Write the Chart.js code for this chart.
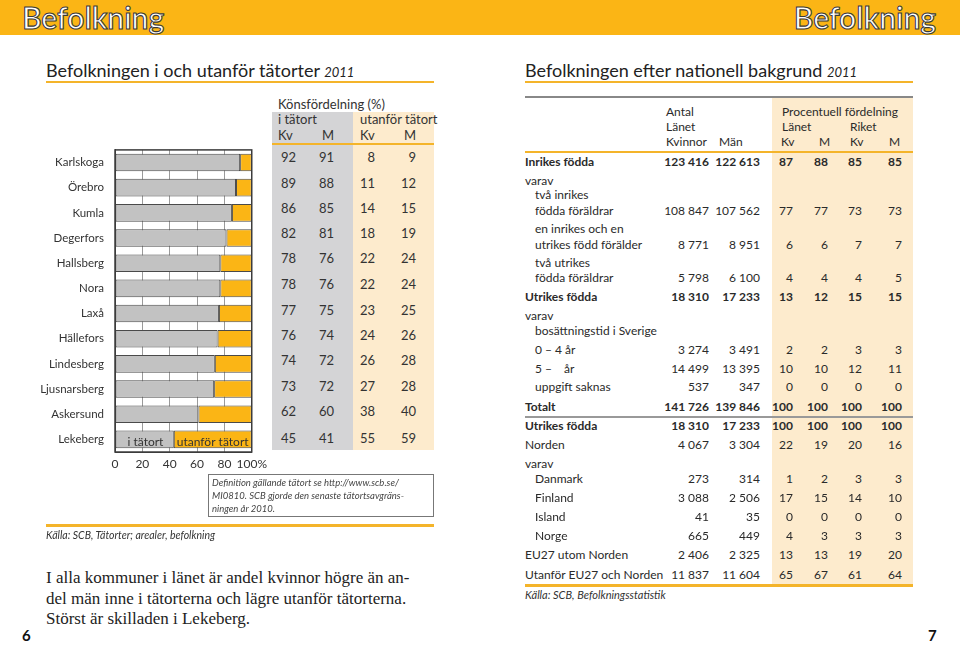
<!DOCTYPE html>
<html>
<head>
<meta charset="utf-8">
<script src="https://cdn.jsdelivr.net/npm/chart.js@4"></script>
<style>
  html, body { margin: 0; padding: 0; }
  body { width: 960px; height: 645px; position: relative; overflow: hidden; background: #fff;
         font-family: Lato, sans-serif; color: #2a2a2a; }
  .abs { position: absolute; white-space: nowrap; }
  .band { left: 0; top: 0; width: 960px; height: 35px; background: #fbb515; }
  .head { top: 0; line-height: 34px; font-size: 30px; font-weight: 600; color: #fff; -webkit-text-stroke: 1.1px #3a3a3a; }
  .title { top: 59px; font-size: 18px; color: #222; }
  .title i { font-size: 13px; }
  .rule { height: 2px; background: #f4b42a; }
  .cell { font-size: 13px; line-height: 16px; transform: translateY(-8px); color: #333; }
  .rt { font-size: 12px; line-height: 16px; transform: translateY(-8px); }
  .bold { font-weight: 700; }
  .note { font-style: italic; font-size: 10.5px; color: #333; }
  .para { font-family: "Liberation Serif", serif; font-size: 17px; line-height: 20.5px; color: #222; }
  .pg { font-weight: 700; font-size: 15px; color: #111; }
</style>
</head>
<body>
<div class="abs band"></div>
<div class="abs head" style="left:22px;">Befolkning</div>
<div class="abs head" style="right:24px;">Befolkning</div>

<div class="abs title" style="left:46px;">Befolkningen i och utanför tätorter <i>2011</i></div>
<div class="abs rule" style="left:46px; top:81px; width:388px;"></div>
<div class="abs title" style="left:525px;">Befolkningen efter nationell bakgrund <i>2011</i></div>
<div class="abs rule" style="left:525px; top:81px; width:388px;"></div>

<!-- left table backgrounds -->
<div class="abs" style="left:272px; top:112px; width:81px; height:338px; background:#d4d4d6;"></div>
<div class="abs" style="left:353px; top:112px; width:81px; height:338px; background:#fdebcd;"></div>
<div class="abs rule" style="left:272px; top:143px; width:162px;"></div>
<div id="lefttable"></div>

<canvas id="chart" class="abs" style="left:0; top:140px; width:272px; height:336px;"></canvas>

<div class="abs" style="left:208px; top:474px; width:224px; height:41px; border:1.5px solid #777;"></div>
<div class="abs note" style="left:212px; top:476px; font-size:9.5px; line-height:13px; color:#444;">Definition gällande tätort se http://www.scb.se/<br>MI0810. SCB gjorde den senaste tätortsavgräns-<br>ningen år 2010.</div>
<div class="abs rule" style="left:46px; top:524px; width:388px; height:2.5px;"></div>
<div class="abs note" style="left:46px; top:529px;">Källa: SCB, Tätorter; arealer, befolkning</div>

<div class="abs para" style="left:46px; top:568px;">I alla kommuner i länet är andel kvinnor högre än an-<br>del män inne i tätorterna och lägre utanför tätorterna.<br>Störst är skilladen i Lekeberg.</div>

<div class="abs pg" style="left:22px; top:626px;">6</div>
<div class="abs pg" style="left:928px; top:626px;">7</div>

<!-- right table -->
<div class="abs" style="left:772px; top:97px; width:141px; height:490px; background:#fdebcd;"></div>
<div class="abs" style="left:525px; top:96px; width:388px; height:2px; background:#888;"></div>
<div class="abs rule" style="left:525px; top:151px; width:388px;"></div>
<div class="abs" style="left:525px; top:416px; width:388px; height:2px; background:#999;"></div>
<div class="abs rule" style="left:525px; top:584px; width:388px; height:2.5px;"></div>
<div class="abs note" style="left:525px; top:588px; font-size:11px;">Källa: SCB, Befolkningsstatistik</div>
<div id="righttable"></div>

<script>
// bar chart: share of population in / outside urban areas (%)
const municipalities = ['Karlskoga', 'Örebro', 'Kumla', 'Degerfors', 'Hallsberg', 'Nora', 'Laxå',
  'Hällefors', 'Lindesberg', 'Ljusnarsberg', 'Askersund', 'Lekeberg'];
const inTatort = [91.5, 88.5, 85.5, 81.5, 77, 77, 76, 75, 73, 72.5, 61, 43];
const utanforTatort = [8.5, 11.5, 14.5, 18.5, 23, 23, 24, 25, 27, 27.5, 39, 57];
const xTicks = [0, 20, 40, 60, 80, 100];

// gender split table (%)
const kvInne = [92, 89, 86, 82, 78, 78, 77, 76, 74, 73, 62, 45];
const mInne = [91, 88, 85, 81, 76, 76, 75, 74, 72, 72, 60, 41];
const kvUte = [8, 11, 14, 18, 22, 22, 23, 24, 26, 27, 38, 55];
const mUte = [9, 12, 15, 19, 24, 24, 25, 26, 28, 28, 40, 59];

// national background table
const bgLabels = ['Inrikes födda', 'varav', 'två inrikes', 'födda föräldrar', 'en inrikes och en',
  'utrikes född förälder', 'två utrikes', 'födda föräldrar', 'Utrikes födda', 'varav',
  'bosättningstid i Sverige', '0 – 4 år', '5 –\u2003 år', 'uppgift saknas', 'Totalt', 'Utrikes födda',
  'Norden', 'varav', 'Danmark', 'Finland', 'Island', 'Norge', 'EU27 utom Norden', 'Utanför EU27 och Norden'];
const bgKvinnor = ['123 416', '', '', '108 847', '', '8 771', '', '5 798', '18 310', '', '', '3 274', '14 499', '537',
  '141 726', '18 310', '4 067', '', '273', '3 088', '41', '665', '2 406', '11 837'];
const bgMan = ['122 613', '', '', '107 562', '', '8 951', '', '6 100', '17 233', '', '', '3 491', '13 395', '347',
  '139 846', '17 233', '3 304', '', '314', '2 506', '35', '449', '2 325', '11 604'];
const lanKv = ['87', '', '', '77', '', '6', '', '4', '13', '', '', '2', '10', '0', '100', '100', '22', '', '1', '17', '0', '4', '13', '65'];
const lanM = ['88', '', '', '77', '', '6', '', '4', '12', '', '', '2', '10', '0', '100', '100', '19', '', '2', '15', '0', '3', '13', '67'];
const riketKv = ['85', '', '', '73', '', '7', '', '4', '15', '', '', '3', '12', '0', '100', '100', '20', '', '3', '14', '0', '3', '19', '61'];
const riketM = ['85', '', '', '73', '', '7', '', '5', '15', '', '', '3', '11', '0', '100', '100', '16', '', '3', '10', '0', '3', '20', '64'];
const bgBold = [0, 8, 14, 15];
const bgIndent = [2, 3, 4, 5, 6, 7, 10, 11, 12, 13, 18, 19, 20, 21];

function put(parent, cls, text, left, top, width, align) {
  const d = document.createElement('div');
  d.className = 'abs ' + cls;
  d.textContent = text;
  d.style.top = top + 'px';
  if (align === 'right') { d.style.left = (left - width) + 'px'; d.style.width = width + 'px'; d.style.textAlign = 'right'; }
  else d.style.left = left + 'px';
  parent.appendChild(d);
}

// left table
const lt = document.getElementById('lefttable');
put(lt, 'cell', 'Könsfördelning (%)', 278, 104);
put(lt, 'cell', 'i tätort', 278, 119);
put(lt, 'cell', 'utanför tätort', 360, 119);
[['Kv', 278], ['M', 322], ['Kv', 360], ['M', 404]].forEach(h => put(lt, 'cell', h[0], h[1], 135));
const rowY = [157, 183, 208, 233, 258, 284, 310, 335, 360, 386, 411, 438];
municipalities.forEach((m, i) => {
  put(lt, 'cell', kvInne[i], 296, rowY[i], 30, 'right');
  put(lt, 'cell', mInne[i], 334, rowY[i], 30, 'right');
  put(lt, 'cell', kvUte[i], 375, rowY[i], 30, 'right');
  put(lt, 'cell', mUte[i], 416, rowY[i], 30, 'right');
});

// right table
const rt = document.getElementById('righttable');
put(rt, 'rt', 'Antal', 666, 112); put(rt, 'rt', 'Länet', 666, 127);
put(rt, 'rt', 'Kvinnor', 666, 142); put(rt, 'rt', 'Män', 719, 142);
put(rt, 'rt', 'Procentuell fördelning', 782, 112);
put(rt, 'rt', 'Länet', 782, 127); put(rt, 'rt', 'Riket', 850, 127);
[['Kv', 781], ['M', 819], ['Kv', 850], ['M', 889]].forEach(h => put(rt, 'rt', h[0], h[1], 142));
const bgY = [162, 181, 195, 211, 229, 245, 263, 278, 297, 316, 331, 350, 369, 387, 407, 426, 445, 464, 479, 498, 517, 536, 555, 575];
const colRight = [709, 760, 793, 828, 862, 902];
bgLabels.forEach((lab, i) => {
  const cls = 'rt' + (bgBold.includes(i) ? ' bold' : '');
  put(rt, cls, lab, bgIndent.includes(i) ? 535 : 525, bgY[i]);
  [bgKvinnor, bgMan, lanKv, lanM, riketKv, riketM].forEach((col, c) => {
    if (col[i]) put(rt, cls, col[i], colRight[c], bgY[i], 60, 'right');
  });
});

// chart
const framePlugin = {
  id: 'frame',
  afterDraw(chart) {
    const { ctx, chartArea: a } = chart;
    ctx.save();
    ctx.strokeStyle = '#3c3c3c';
    ctx.lineWidth = 1.5;
    ctx.strokeRect(a.left, a.top, a.right - a.left, a.bottom - a.top);
    // in-bar legend on the last bar
    const last = municipalities.length - 1;
    const g = chart.getDatasetMeta(0).data[last];
    ctx.font = '12px Lato';
    ctx.fillStyle = '#333';
    ctx.textBaseline = 'middle';
    ctx.fillText('i tätort', g.base + 12, g.y + 3);
    ctx.fillText('utanför tätort', g.x + 3, g.y + 3);
    ctx.restore();
  }
};

new Chart(document.getElementById('chart'), {
  type: 'bar',
  data: {
    labels: municipalities,
    datasets: [
      { label: 'i tätort', data: inTatort, backgroundColor: '#c2c2c2', borderColor: '#4a4a4a', borderWidth: 1, borderSkipped: false },
      { label: 'utanför tätort', data: utanforTatort, backgroundColor: '#fbb515', borderColor: '#4a4a4a', borderWidth: 1, borderSkipped: false }
    ]
  },
  options: {
    indexAxis: 'y',
    responsive: false,
    animation: false,
    devicePixelRatio: 1,
    layout: { padding: { top: 6, right: 0, left: 0, bottom: 0 } },
    datasets: { bar: { barPercentage: 0.7, categoryPercentage: 1 } },
    plugins: { legend: { display: false }, tooltip: { enabled: false } },
    scales: {
      x: {
        stacked: true, min: 0, max: 100,
        afterBuildTicks: s => { s.ticks = xTicks.map(v => ({ value: v })); },
        afterFit: s => { s.height = 24; },
        grid: { color: c => (c.tick && (c.tick.value === 0 || c.tick.value === 100)) ? '#3c3c3c' : '#9a9a9a', drawTicks: false },
        border: { color: '#3c3c3c' },
        ticks: { color: '#333', font: { family: 'Lato', size: 12 }, padding: 5, maxRotation: 0, autoSkip: false,
                 callback: v => v === 100 ? '100%' : v }
      },
      y: {
        stacked: true,
        afterFit: s => { s.width = 115; },
        grid: { display: false },
        border: { color: '#3c3c3c' },
        ticks: { color: '#333', font: { family: 'Lato', size: 11.5 }, padding: 3 }
      }
    }
  },
  plugins: [framePlugin]
});
</script>
</body>
</html>
